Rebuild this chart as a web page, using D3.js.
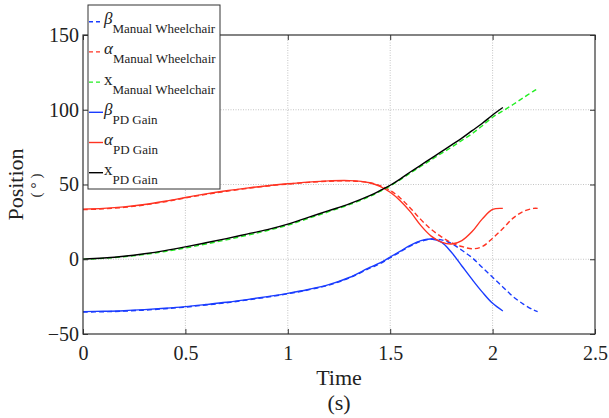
<!DOCTYPE html>
<html>
<head>
<meta charset="utf-8">
<script src="https://cdn.jsdelivr.net/npm/d3@7"></script>
<style>
  body { margin: 0; background: #fff; }
  text { font-family: "Liberation Serif", "Times New Roman", serif; fill: #222; }
</style>
</head>
<body>
<svg class="chart"></svg>
<script>
// time stamps for the two runs (s)
var tPD = [0, 0.1, 0.2, 0.3, 0.4, 0.5, 0.6, 0.7, 0.8, 0.9, 1.0, 1.1, 1.2, 1.3, 1.4,
  1.45, 1.5, 1.55, 1.6, 1.65, 1.7, 1.75, 1.8, 1.85, 1.9, 1.95, 2.0, 2.05];
var tMW = [0, 0.1, 0.2, 0.3, 0.4, 0.5, 0.6, 0.7, 0.8, 0.9, 1.0, 1.1, 1.2, 1.3, 1.4,
  1.45, 1.5, 1.55, 1.6, 1.65, 1.7, 1.75, 1.8, 1.85, 1.9, 1.95, 2.0, 2.05, 2.1, 2.15, 2.2, 2.22];

// PD gain run
var betaPD = [-35, -34.8, -34.4, -33.7, -32.8, -31.7, -30.3, -28.8, -27, -25, -22.8, -20.2, -17, -12.2, -5.5,
  -2.5, 1.5, 5.5, 9.5, 12.5, 13.5, 11.5, 4.5, -4.5, -13.5, -22, -29.5, -34.6];
var alphaPD = [33.5, 34, 35, 36.6, 38.8, 41.3, 43.7, 45.8, 47.6, 49.2, 50.5, 51.6, 52.4, 52.6, 51.2,
  48.8, 44.8, 39, 31.5, 22.5, 15.5, 11.5, 10.2, 12.5, 18.5, 27, 33.3, 34];
var xPD = [0, 0.8, 2, 3.7, 5.8, 8.3, 11, 13.8, 16.8, 19.8, 23.5, 28, 32.5, 37, 42.5,
  45.9, 49.5, 53.8, 58.5, 63, 67.5, 72, 76.5, 81, 86, 91, 96.5, 101.5];

// manual wheelchair run
var betaMW = [-35.3, -35.1, -34.7, -34, -33.1, -32, -30.6, -29.1, -27.3, -25.3, -23.1, -20.5, -17.3, -12.5, -6,
  -3, 1, 5, 9, 12, 13.5, 13, 10.5, 6, 1, -5.5, -12, -18.5, -25, -30, -34, -35];
var alphaMW = [33.2, 33.7, 34.7, 36.3, 38.5, 41, 43.4, 45.5, 47.4, 49, 50.3, 51.4, 52.2, 52.4, 51.2,
  49.2, 46, 40.8, 34, 26.5, 20, 15, 11, 8.5, 7, 8.5, 14, 20.5, 27.5, 32, 34, 34];
var xMW = [0, 0.6, 1.7, 3.2, 5.2, 7.5, 10.2, 13, 16, 19.2, 22.8, 27.3, 31.8, 36.5, 42,
  45.4, 49, 53.3, 57.8, 62.2, 66.5, 70.8, 75, 79.5, 84, 89.3, 95, 99.2, 103.5, 108, 112.5, 114];

var xTicks = [0, 0.5, 1, 1.5, 2, 2.5];
var yTicks = [-50, 0, 50, 100, 150];

var series = [
  {sym: "β", sub: "Manual Wheelchair", t: tMW, v: betaMW, color: "#1a3cff", dash: "5,3"},
  {sym: "α", sub: "Manual Wheelchair", t: tMW, v: alphaMW, color: "#ff3322", dash: "5,3"},
  {sym: "x", sub: "Manual Wheelchair", t: tMW, v: xMW, color: "#22ee22", dash: "5,3"},
  {sym: "β", sub: "PD Gain", t: tPD, v: betaPD, color: "#1a3cff", dash: null},
  {sym: "α", sub: "PD Gain", t: tPD, v: alphaPD, color: "#ff3322", dash: null},
  {sym: "x", sub: "PD Gain", t: tPD, v: xPD, color: "#000000", dash: null}
];

var Chart = (function(){

  var W = 609, H = 418,
    m = {left: 83, right: 595, top: 35, bottom: 334};

  var svg = d3.select(".chart").attr("width", W).attr("height", H);

  var xScale = d3.scaleLinear().domain([0, 2.5]).range([m.left, m.right]);
  var yScale = d3.scaleLinear().domain([-50, 150]).range([m.bottom, m.top]);

  //dotted grid
  var grid = svg.append("g").attr("stroke", "#b5b5b5").attr("stroke-width", 0.8).attr("stroke-dasharray", "1,1.5");
  grid.selectAll(".gx").data(xTicks.slice(1, -1)).enter().append("line")
    .attr("x1", function(d){ return xScale(d); }).attr("x2", function(d){ return xScale(d); })
    .attr("y1", m.top).attr("y2", m.bottom);
  grid.selectAll(".gy").data(yTicks.slice(1, -1)).enter().append("line")
    .attr("y1", function(d){ return yScale(d); }).attr("y2", function(d){ return yScale(d); })
    .attr("x1", m.left).attr("x2", m.right);

  //curves
  var line = d3.line().curve(d3.curveCatmullRom.alpha(0.5));
  series.forEach(function(s){
    var pts = s.t.map(function(t, i){ return [xScale(t), yScale(s.v[i])]; });
    svg.append("path")
      .attr("d", line(pts))
      .attr("fill", "none")
      .attr("stroke", s.color)
      .attr("stroke-width", 1.4)
      .attr("stroke-dasharray", s.dash);
  });

  //axes with inward ticks
  function styleAxis(g){
    g.select(".domain").remove();
    g.selectAll(".tick line").attr("stroke", "#333");
    g.selectAll("text").style("font-size", "20px").attr("fill", "#222");
  }
  svg.append("g").attr("transform", "translate(0," + m.bottom + ")")
    .call(d3.axisBottom(xScale).tickValues(xTicks).tickFormat(d3.format("")).tickSize(-5).tickPadding(12))
    .call(styleAxis);
  svg.append("g").attr("transform", "translate(0," + m.top + ")")
    .call(d3.axisTop(xScale).tickValues(xTicks).tickFormat("").tickSize(-5))
    .call(styleAxis);
  svg.append("g").attr("transform", "translate(" + m.left + ",0)")
    .call(d3.axisLeft(yScale).tickValues(yTicks).tickSize(-5).tickPadding(4))
    .call(styleAxis);
  svg.append("g").attr("transform", "translate(" + m.right + ",0)")
    .call(d3.axisRight(yScale).tickValues(yTicks).tickFormat("").tickSize(-5))
    .call(styleAxis);

  svg.append("rect")
    .attr("x", m.left).attr("y", m.top)
    .attr("width", m.right - m.left).attr("height", m.bottom - m.top)
    .attr("fill", "none").attr("stroke", "#333").attr("stroke-width", 1.2);

  //axis labels
  svg.append("text").attr("x", (m.left + m.right) / 2).attr("y", 385)
    .attr("text-anchor", "middle").style("font-size", "22px").text("Time");
  svg.append("text").attr("x", (m.left + m.right) / 2).attr("y", 410)
    .attr("text-anchor", "middle").style("font-size", "22px").text("(s)");
  svg.append("text").attr("transform", "translate(23," + (m.top + m.bottom) / 2 + ") rotate(-90)")
    .attr("text-anchor", "middle").style("font-size", "22px").text("Position");
  svg.append("text").attr("transform", "translate(41," + ((m.top + m.bottom) / 2 - 1) + ") rotate(-90)")
    .attr("text-anchor", "middle").style("font-size", "15px").style("letter-spacing", "4px")
    .text("(°)");

  //legend
  var legend = svg.append("g");
  legend.append("rect")
    .attr("x", 88).attr("y", 5).attr("width", 132).attr("height", 184)
    .attr("fill", "#fff").attr("stroke", "#333").attr("stroke-width", 1);

  var rows = legend.selectAll(".row").data(series).enter().append("g")
    .attr("class", "row")
    .attr("transform", function(d, i){ return "translate(0," + (21.7 + 30.2 * i) + ")"; });
  rows.append("line")
    .attr("x1", 89).attr("x2", 103)
    .attr("stroke", function(d){ return d.color; })
    .attr("stroke-width", 1.4)
    .attr("stroke-dasharray", function(d){ return d.dash ? "4,3" : null; });
  var label = rows.append("text").attr("x", 104).attr("y", 2.5);
  label.append("tspan").style("font-size", "17px")
    .style("font-style", function(d){ return d.sym == "x" ? "normal" : "italic"; })
    .text(function(d){ return d.sym; });
  label.append("tspan").attr("dy", 9).style("font-size", "13px")
    .text(function(d){ return d.sub; });

  return {svg: svg};
})();
</script>
</body>
</html>
